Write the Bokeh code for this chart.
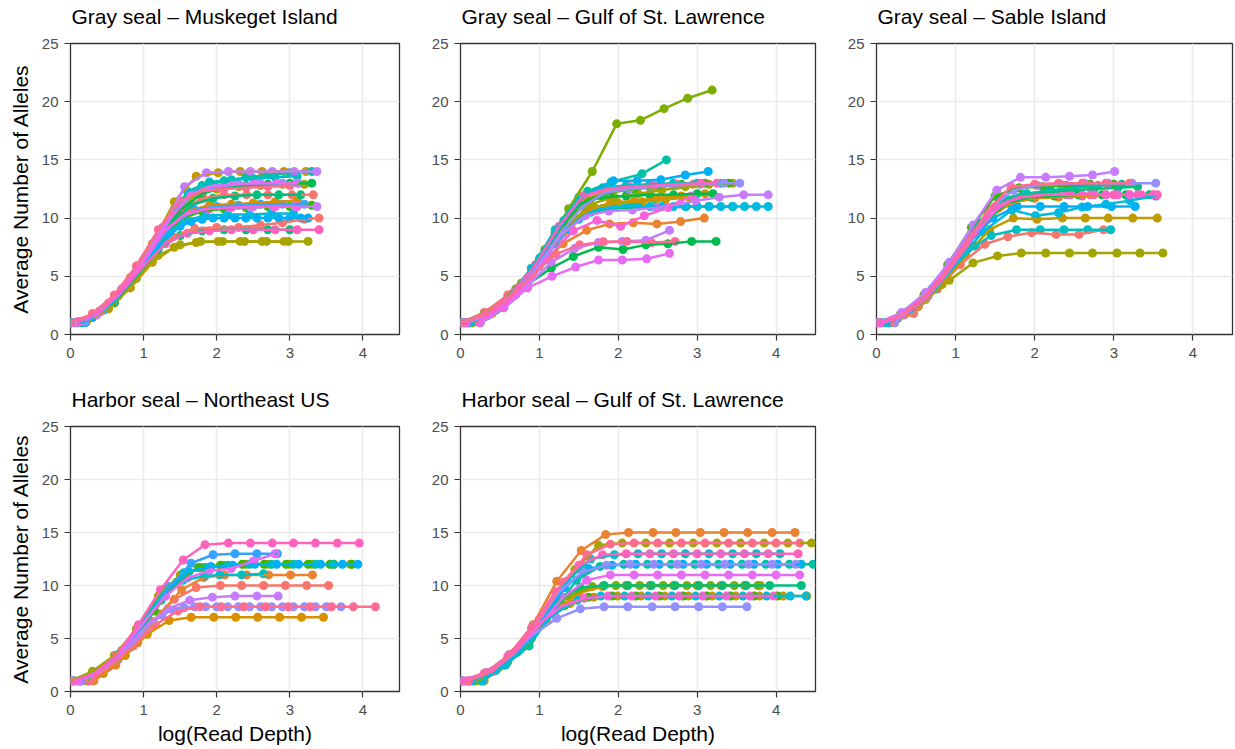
from bokeh.plotting import figure
from bokeh.layouts import row, column
from bokeh.models import Range1d, FixedTicker, Title
from bokeh.embed import file_html
from bokeh.resources import INLINE

# ggplot-like hue palette (style)
palette = ["#F8766D", "#EA8331", "#D89000", "#C09B00", "#A3A500", "#7CAE00", "#39B600",
           "#00BB4E", "#00BF7D", "#00C1A3", "#00BFC4", "#00BAE0", "#00B0F6", "#35A2FF",
           "#9590FF", "#C77CFF", "#E76BF3", "#FA62DB", "#FF62BC", "#FF6C91"]

panel_titles = ["Gray seal \u2013 Muskeget Island", "Gray seal \u2013 Gulf of St. Lawrence",
                "Gray seal \u2013 Sable Island", "Harbor seal \u2013 Northeast US",
                "Harbor seal \u2013 Gulf of St. Lawrence"]
x_ticks = [0, 1, 2, 3, 4]
y_ticks = [0, 5, 10, 15, 20, 25]

# ---------------- Gray seal - Muskeget Island ----------------
musk_col = [15, 3, 9, 10, 16, 14, 4, 7, 0, 8, 2, 6, 15, 17, 12, 11, 0, 18, 8, 4, 3, 19, 13]
musk_x = [
    [0.06, 0.36, 0.66, 0.96, 1.26, 1.56, 1.86, 2.16, 2.46, 2.76, 3.06, 3.37],
    [0.22, 0.52, 0.82, 1.12, 1.42, 1.72, 2.02, 2.32, 2.62, 2.92, 3.22],
    [0.0, 0.3, 0.6, 0.9, 1.2, 1.5, 1.8, 2.1, 2.4, 2.7, 3.0, 3.3],
    [0.1, 0.4, 0.7, 1.0, 1.3, 1.6, 1.9, 2.2, 2.5, 2.8, 3.1],
    [0.12, 0.42, 0.72, 1.02, 1.32, 1.62, 1.92, 2.22, 2.52, 2.82, 3.1],
    [0.2, 0.5, 0.8, 1.1, 1.4, 1.7, 2.0, 2.3, 2.6, 2.9, 3.12],
    [0.2, 0.5, 0.8, 1.1, 1.4, 1.7, 2.0, 2.3, 2.6, 2.9, 3.2],
    [0.0, 0.3, 0.6, 0.9, 1.2, 1.5, 1.8, 2.1, 2.4, 2.7, 3.0, 3.3],
    [0.0, 0.3, 0.6, 0.9, 1.2, 1.5, 1.8, 2.1, 2.41, 2.7, 3.03, 3.32],
    [0.15, 0.45, 0.75, 1.05, 1.35, 1.65, 1.95, 2.25, 2.55, 2.85, 3.15],
    [0.1, 0.4, 0.7, 1.0, 1.3, 1.6, 1.9, 2.2, 2.5, 2.8, 3.1],
    [0.0, 0.3, 0.6, 0.9, 1.2, 1.5, 1.8, 2.1, 2.4, 2.7, 3.0, 3.3],
    [0.07, 0.37, 0.67, 0.97, 1.27, 1.57, 1.87, 2.17, 2.47, 2.77, 3.07, 3.37],
    [0.1, 0.4, 0.7, 1.0, 1.3, 1.6, 1.9, 2.2, 2.5, 2.8, 3.1],
    [0.0, 0.15, 0.3, 0.45, 0.6, 0.75, 0.9, 1.05, 1.2, 1.35, 1.5, 1.65, 1.8, 1.95, 2.1, 2.25,
     2.4, 2.55, 2.7, 2.85, 3.0, 3.15, 3.25],
    [0.05, 0.35, 0.65, 0.95, 1.25, 1.55, 1.85, 2.15, 2.45, 2.75, 3.05],
    [0.2, 0.5, 0.8, 1.1, 1.4, 1.7, 2.0, 2.3, 2.6, 2.9, 3.2, 3.4],
    [0.1, 0.4, 0.7, 1.0, 1.3, 1.6, 1.9, 2.2, 2.5, 2.8, 3.1, 3.4],
    [0.0, 0.3, 0.6, 0.9, 1.2, 1.5, 1.8, 2.1, 2.4, 2.7, 3.0],
    [0.0, 0.3, 0.6, 0.9, 1.2, 1.5, 1.78, 2.08, 2.38, 2.68, 2.98, 3.25],
    [0.22, 0.52, 0.82, 1.12, 1.42, 1.72, 2.02, 2.32, 2.62, 2.92],
    [0.0, 0.3, 0.6, 0.9, 1.2, 1.5, 1.8, 2.1, 2.4, 2.7, 3.0],
    [0.2, 0.5, 0.8, 1.1, 1.4, 1.7, 2.0, 2.3, 2.6, 2.9, 3.2],
]
musk_y = [
    [1.0, 1.7, 3.4, 6.0, 9.2, 12.7, 13.9, 14.0, 14.0, 14.0, 14.0, 14.0],
    [1.2, 2.7, 4.9, 7.8, 11.4, 13.6, 13.9, 14.0, 14.0, 14.0, 14.0],
    [1.0, 1.6, 3.1, 5.4, 8.3, 11.2, 12.8, 13.2, 13.5, 13.7, 13.9, 14.0],
    [1.0, 2.0, 3.9, 6.4, 9.4, 12.3, 13.1, 13.3, 13.4, 13.5, 13.6],
    [1.1, 2.0, 3.9, 6.5, 9.6, 12.0, 12.7, 12.9, 13.0, 13.0, 13.0],
    [1.2, 2.5, 4.6, 7.3, 10.3, 12.2, 12.7, 12.9, 13.0, 13.0, 13.0],
    [1.1, 2.4, 4.5, 7.2, 10.0, 12.0, 12.5, 12.7, 12.8, 12.9, 12.9],
    [1.0, 1.5, 2.9, 5.2, 8.0, 10.7, 12.1, 12.6, 12.8, 12.9, 13.0, 13.0],
    [1.0, 1.6, 3.0, 5.3, 8.1, 10.6, 11.7, 12.0, 12.0, 12.0, 12.0, 12.0],
    [1.0, 2.1, 4.1, 6.7, 9.4, 11.1, 11.7, 11.9, 12.0, 12.0, 12.0],
    [1.0, 2.0, 3.8, 6.3, 8.9, 10.6, 11.1, 11.2, 11.3, 11.4, 11.5],
    [1.0, 1.5, 2.8, 5.0, 7.7, 9.9, 10.6, 10.8, 10.9, 11.0, 11.0, 11.1],
    [1.0, 1.8, 3.5, 6.0, 8.8, 10.3, 10.8, 10.9, 10.9, 11.0, 11.0, 11.0],
    [1.1, 2.0, 3.9, 6.4, 9.0, 10.5, 10.8, 10.9, 11.0, 11.0, 11.0],
    [1.0, 1.1, 1.5, 2.1, 2.9, 4.0, 5.1, 6.3, 7.5, 8.5, 9.3, 9.7, 9.9, 10.0, 10.0, 10.0,
     10.0, 10.0, 10.0, 10.0, 10.0, 10.0, 10.0],
    [1.0, 1.7, 3.3, 5.7, 8.2, 9.8, 10.2, 10.3, 10.3, 10.4, 10.4],
    [1.2, 2.5, 4.4, 6.8, 8.4, 9.1, 9.2, 9.2, 9.4, 9.6, 9.9, 10.0],
    [1.1, 2.0, 3.7, 5.9, 7.8, 8.7, 8.9, 9.0, 9.0, 9.0, 9.0, 9.0],
    [1.0, 1.5, 2.8, 5.0, 7.3, 8.5, 8.9, 9.0, 9.0, 9.0, 9.0],
    [1.0, 1.5, 2.7, 4.8, 6.8, 7.7, 8.0, 8.0, 8.0, 8.0, 8.0, 8.0],
    [1.1, 2.2, 4.0, 6.2, 7.5, 7.9, 8.0, 8.0, 8.0, 8.0],
    [1.0, 1.8, 3.4, 5.9, 9.0, 11.5, 12.3, 12.5, 12.6, 12.7, 12.8],
    [1.0, 2.4, 4.3, 7.0, 9.5, 10.7, 11.0, 11.1, 11.2, 11.2, 11.2],
]

# ---------------- Gray seal - Gulf of St. Lawrence ----------------
gulf_col = [5, 9, 12, 14, 4, 6, 10, 18, 0, 7, 2, 3, 15, 11, 8, 1, 17, 15, 19, 7, 16]
gulf_x = [
    [0.17, 0.47, 0.77, 1.07, 1.37, 1.67, 1.98, 2.28, 2.58, 2.88, 3.19],
    [0.11, 0.41, 0.71, 1.01, 1.31, 1.61, 1.91, 2.3, 2.61],
    [0.04, 0.34, 0.64, 0.94, 1.24, 1.54, 1.94, 2.24, 2.54, 2.85, 3.14],
    [0.04, 0.34, 0.64, 0.94, 1.24, 1.54, 1.84, 2.14, 2.44, 2.74, 3.04, 3.34, 3.54],
    [0.15, 0.45, 0.75, 1.05, 1.35, 1.65, 1.95, 2.25, 2.55, 2.85, 3.15, 3.45],
    [0.1, 0.4, 0.7, 1.0, 1.3, 1.6, 1.9, 2.2, 2.5, 2.8, 3.1, 3.4],
    [0.0, 0.3, 0.6, 0.9, 1.2, 1.5, 1.8, 2.1, 2.4, 2.7, 3.0, 3.3],
    [0.05, 0.35, 0.65, 0.95, 1.25, 1.55, 1.85, 2.15, 2.45, 2.75, 3.05, 3.25],
    [0.0, 0.3, 0.6, 0.9, 1.2, 1.5, 1.8, 2.1, 2.4, 2.7, 2.95],
    [0.0, 0.3, 0.6, 0.9, 1.2, 1.5, 1.8, 2.1, 2.4, 2.7, 3.0, 3.2],
    [0.1, 0.4, 0.7, 1.0, 1.3, 1.6, 1.9, 2.2, 2.5, 2.8, 3.1],
    [0.2, 0.5, 0.8, 1.1, 1.4, 1.7, 2.0, 2.3, 2.6, 2.9],
    [0.08, 0.38, 0.68, 0.98, 1.28, 1.58, 1.88, 2.18, 2.48, 2.78, 2.98, 3.28, 3.59, 3.9],
    [0.0, 0.15, 0.3, 0.45, 0.6, 0.75, 0.9, 1.05, 1.2, 1.35, 1.5, 1.65, 1.8, 1.95, 2.1, 2.25,
     2.4, 2.55, 2.7, 2.85, 3.0, 3.15, 3.3, 3.45, 3.6, 3.75, 3.9],
    [0.06, 0.36, 0.66, 0.96, 1.26, 1.56, 1.86, 2.16, 2.46, 2.86, 3.15, 3.45],
    [0.1, 0.4, 0.7, 1.0, 1.3, 1.6, 1.89, 2.19, 2.49, 2.79, 3.09],
    [0.23, 0.53, 0.83, 1.13, 1.43, 1.73, 2.03, 2.33, 2.63, 2.93],
    [0.25, 0.55, 0.85, 1.15, 1.45, 1.75, 2.05, 2.35, 2.65],
    [0.0, 0.31, 0.61, 0.91, 1.21, 1.51, 1.81, 2.11, 2.42, 2.72],
    [0.25, 0.55, 0.85, 1.15, 1.43, 1.75, 2.06, 2.35, 2.63, 2.93, 3.24],
    [0.25, 0.55, 0.85, 1.16, 1.46, 1.75, 2.05, 2.36, 2.65],
]
gulf_y = [
    [1.1, 2.3, 4.4, 7.3, 10.8, 14.0, 18.1, 18.4, 19.4, 20.3, 21.0],
    [1.0, 2.0, 3.9, 6.6, 9.8, 12.3, 13.1, 13.8, 15.0],
    [1.0, 1.7, 3.2, 5.8, 9.0, 11.8, 13.2, 13.2, 13.3, 13.7, 14.0],
    [1.0, 1.6, 3.1, 5.5, 8.4, 11.0, 12.2, 12.5, 12.7, 12.8, 12.9, 13.0, 13.0],
    [1.0, 2.1, 4.0, 6.6, 9.3, 11.2, 11.8, 12.1, 12.4, 12.7, 12.9, 13.0],
    [1.0, 2.0, 3.9, 6.5, 9.4, 11.6, 12.2, 12.5, 12.7, 12.9, 13.0, 13.0],
    [1.0, 1.6, 3.1, 5.7, 9.0, 11.8, 12.6, 12.8, 12.9, 13.0, 13.0, 13.0],
    [1.0, 1.9, 3.5, 6.0, 9.3, 11.9, 12.5, 12.7, 12.8, 12.9, 13.0, 13.0],
    [1.0, 1.9, 3.4, 5.6, 8.7, 11.4, 12.3, 12.5, 12.6, 12.8, 12.9],
    [1.0, 1.7, 3.1, 5.7, 8.8, 11.2, 11.8, 11.9, 12.0, 12.0, 12.1, 12.1],
    [1.0, 1.8, 3.4, 6.0, 8.7, 10.7, 11.3, 11.5, 11.7, 11.9, 12.1],
    [1.1, 2.3, 4.3, 6.9, 9.4, 10.9, 11.3, 11.4, 11.6, 11.8],
    [1.0, 1.8, 3.4, 5.8, 8.6, 10.2, 10.6, 10.7, 10.9, 11.2, 11.5, 11.8, 12.0, 12.0],
    [1.0, 1.1, 1.5, 2.1, 2.9, 3.9, 5.1, 6.4, 7.8, 9.0, 9.9, 10.5, 10.8, 10.9, 11.0, 11.0,
     11.0, 11.0, 11.0, 11.0, 11.0, 11.0, 11.0, 11.0, 11.0, 11.0, 11.0],
    [1.0, 1.7, 3.3, 5.9, 8.5, 10.2, 10.8, 10.9, 11.0, 11.0, 11.0, 11.0],
    [1.0, 1.9, 3.6, 5.9, 7.8, 8.95, 9.5, 9.6, 9.5, 9.7, 10.0],
    [1.1, 2.4, 4.3, 6.8, 8.9, 9.8, 9.3, 10.2, 10.9, 11.9],
    [1.1, 2.4, 4.2, 6.2, 7.4, 7.9, 8.0, 8.1, 8.95],
    [1.0, 1.7, 3.1, 5.1, 6.9, 7.7, 7.97, 8.0, 7.9, 8.0],
    [1.0, 2.6, 4.3, 5.7, 6.7, 7.5, 7.3, 7.7, 7.8, 8.0, 8.0],
    [1.0, 2.3, 4.0, 5.0, 5.8, 6.4, 6.4, 6.5, 6.97],
]

# ---------------- Gray seal - Sable Island ----------------
sable_col = [15, 14, 19, 6, 9, 17, 18, 2, 12, 11, 3, 10, 0, 4, 8, 7]
sable_x = [
    [0.02, 0.32, 0.62, 0.92, 1.22, 1.52, 1.82, 2.14, 2.44, 2.73, 3.01],
    [0.23, 0.53, 0.83, 1.13, 1.43, 1.73, 2.03, 2.33, 2.63, 2.93, 3.23, 3.53],
    [0.2, 0.5, 0.8, 1.1, 1.4, 1.7, 2.0, 2.3, 2.6, 2.9, 3.2],
    [0.0, 0.3, 0.6, 0.9, 1.2, 1.5, 1.8, 2.1, 2.4, 2.7, 3.0],
    [0.1, 0.4, 0.7, 1.0, 1.3, 1.6, 1.9, 2.2, 2.5, 2.8, 3.1],
    [0.05, 0.2, 0.35, 0.5, 0.65, 0.8, 0.95, 1.1, 1.25, 1.4, 1.55, 1.7, 1.85, 2.0, 2.15, 2.3,
     2.45, 2.6, 2.75, 2.9, 3.05, 3.2, 3.35, 3.5],
    [0.0, 0.3, 0.6, 0.9, 1.2, 1.5, 1.8, 2.1, 2.4, 2.7, 3.0, 3.3, 3.55],
    [0.2, 0.5, 0.8, 1.1, 1.4, 1.7, 2.0, 2.3, 2.6, 2.9, 3.2, 3.5],
    [0.0, 0.27, 0.57, 0.87, 1.17, 1.47, 1.78, 2.07, 2.37, 2.67, 2.97, 3.27],
    [0.14, 0.44, 0.74, 1.04, 1.34, 1.71, 2.01, 2.3, 2.6, 2.9, 3.2, 3.53],
    [0.23, 0.53, 0.83, 1.13, 1.43, 1.73, 2.03, 2.35, 2.64, 2.93, 3.24, 3.55],
    [0.05, 0.35, 0.65, 0.95, 1.25, 1.45, 1.77, 2.07, 2.37, 2.67, 2.96],
    [0.17, 0.47, 0.77, 1.06, 1.37, 1.66, 1.96, 2.27, 2.56, 2.87],
    [0.02, 0.32, 0.62, 0.92, 1.22, 1.53, 1.83, 2.14, 2.44, 2.73, 3.04, 3.33, 3.62],
    [0.05, 0.35, 0.65, 0.95, 1.25, 1.55, 1.85, 2.15, 2.45, 2.75, 3.05, 3.3],
    [0.15, 0.45, 0.75, 1.05, 1.35, 1.65, 1.95, 2.25, 2.55, 2.85, 3.15, 3.45],
]
sable_y = [
    [1.0, 1.9, 3.6, 6.2, 9.4, 12.4, 13.5, 13.5, 13.6, 13.7, 14.0],
    [1.0, 2.6, 4.7, 7.6, 10.8, 12.4, 12.8, 12.9, 13.0, 13.0, 13.0, 13.0],
    [1.2, 2.5, 4.6, 7.4, 10.6, 12.7, 12.9, 13.0, 13.0, 13.0, 13.0],
    [1.0, 1.7, 3.4, 6.0, 9.2, 11.9, 12.6, 12.7, 12.8, 12.9, 12.9],
    [1.0, 2.0, 3.9, 6.6, 9.6, 11.7, 12.1, 12.4, 12.6, 12.8, 12.9],
    [1.0, 1.2, 1.7, 2.4, 3.3, 4.5, 5.8, 7.2, 8.6, 9.9, 10.9, 11.5, 11.8, 11.9, 12.0, 12.0,
     12.0, 12.0, 12.0, 12.0, 12.0, 12.0, 12.0, 12.0],
    [1.0, 1.6, 3.2, 5.7, 8.7, 11.0, 11.8, 12.0, 12.0, 12.0, 12.0, 12.0, 12.0],
    [1.1, 2.4, 4.4, 7.1, 9.9, 11.3, 11.7, 11.8, 11.9, 12.0, 12.0, 12.0],
    [1.0, 1.4, 2.9, 5.2, 7.9, 10.0, 11.0, 11.0, 11.0, 11.0, 11.0, 11.0],
    [1.0, 2.0, 3.9, 6.3, 8.8, 10.7, 10.2, 10.45, 10.95, 11.2, 11.5, 11.9],
    [1.0, 2.4, 4.3, 6.8, 9.0, 10.0, 9.9, 10.0, 10.0, 10.0, 10.0, 10.0],
    [1.0, 1.7, 3.3, 5.7, 7.6, 8.5, 9.0, 9.0, 9.0, 9.0, 9.0],
    [1.0, 1.8, 3.9, 6.0, 7.75, 8.4, 8.75, 8.6, 8.6, 9.0],
    [1.0, 1.7, 3.0, 4.65, 6.15, 6.75, 7.0, 7.0, 7.0, 7.0, 7.0, 7.0, 7.0],
    [1.0, 1.8, 3.5, 6.2, 9.3, 11.5, 12.0, 12.2, 12.4, 12.5, 12.6, 12.7],
    [1.0, 2.1, 4.0, 6.7, 9.6, 11.3, 11.8, 11.9, 12.0, 12.0, 12.0, 12.0],
]

# ---------------- Harbor seal - Northeast US ----------------
ne_col = [18, 13, 16, 12, 6, 4, 9, 10, 1, 0, 15, 14, 19, 2]
ne_x = [
    [0.03, 0.33, 0.63, 0.93, 1.23, 1.54, 1.84, 2.16, 2.46, 2.76, 3.05, 3.35, 3.65, 3.95],
    [0.15, 0.45, 0.75, 1.05, 1.35, 1.65, 1.95, 2.25, 2.55, 2.83],
    [0.1, 0.4, 0.7, 1.0, 1.3, 1.6, 1.9, 2.2, 2.5, 2.8],
    [0.12, 0.42, 0.72, 1.02, 1.32, 1.62, 1.92, 2.22, 2.52, 2.82, 3.12, 3.42, 3.72, 3.93],
    [0.25, 0.55, 0.85, 1.15, 1.45, 1.75, 2.05, 2.35, 2.65, 2.95, 3.25, 3.55, 3.85],
    [0.0, 0.3, 0.6, 0.9, 1.2, 1.5, 1.8, 2.1, 2.4, 2.7, 3.0, 3.3, 3.6, 3.83],
    [0.05, 0.35, 0.65, 0.95, 1.25, 1.55, 1.85, 2.15, 2.45, 2.75, 3.05, 3.35, 3.6],
    [0.04, 0.34, 0.64, 0.94, 1.24, 1.54, 1.84, 2.04, 2.34, 2.64],
    [0.32, 0.62, 0.92, 1.22, 1.52, 1.82, 2.11, 2.41, 2.71, 3.01, 3.31],
    [0.22, 0.52, 0.82, 1.12, 1.42, 1.72, 2.05, 2.34, 2.64, 2.94, 3.23, 3.53],
    [0.13, 0.43, 0.73, 1.03, 1.33, 1.63, 1.94, 2.25, 2.55, 2.84],
    [0.05, 0.2, 0.35, 0.5, 0.65, 0.8, 0.95, 1.1, 1.25, 1.4, 1.55, 1.7, 1.85, 2.0, 2.15, 2.3,
     2.45, 2.6, 2.75, 2.9, 3.05, 3.2, 3.35, 3.5, 3.7],
    [0.26, 0.56, 0.86, 1.16, 1.47, 1.77, 2.06, 2.37, 2.67, 2.98, 3.28, 3.57, 3.87, 4.17],
    [0.15, 0.45, 0.75, 1.05, 1.35, 1.65, 1.96, 2.26, 2.56, 2.86, 3.16, 3.46],
]
ne_y = [
    [1.0, 1.7, 3.4, 6.3, 9.6, 12.4, 13.85, 14.0, 14.0, 14.0, 14.0, 14.0, 14.0, 14.0],
    [1.0, 2.0, 4.0, 6.9, 9.9, 12.1, 12.9, 13.0, 13.0, 13.0],
    [1.0, 2.0, 3.9, 6.5, 9.0, 10.7, 11.4, 11.6, 12.3, 13.0],
    [1.0, 1.9, 3.7, 6.5, 9.6, 11.3, 11.8, 11.9, 12.0, 12.0, 12.0, 12.0, 12.0, 12.0],
    [1.0, 2.7, 4.8, 7.6, 10.3, 11.7, 11.9, 12.0, 12.0, 12.0, 12.0, 12.0, 12.0],
    [1.0, 1.9, 3.4, 5.9, 9.0, 11.0, 11.7, 11.9, 12.0, 12.0, 12.0, 12.0, 12.0, 12.0],
    [1.0, 1.8, 3.5, 6.2, 9.2, 11.2, 11.7, 11.9, 12.0, 12.0, 12.0, 12.0, 12.0],
    [1.0, 1.7, 3.3, 5.8, 8.6, 10.5, 10.9, 11.0, 11.0, 11.1],
    [1.0, 2.5, 4.6, 7.3, 9.6, 10.75, 11.0, 11.0, 11.0, 11.0, 11.0],
    [1.0, 2.3, 4.2, 6.6, 8.7, 9.8, 10.0, 10.0, 10.0, 10.0, 10.0, 10.0],
    [1.0, 2.0, 3.8, 6.1, 7.8, 8.6, 8.9, 9.0, 9.0, 9.0],
    [1.0, 1.2, 1.6, 2.2, 3.0, 4.1, 5.3, 6.4, 7.2, 7.7, 7.9, 8.0, 8.0, 8.0, 8.0, 8.0,
     8.0, 8.0, 8.0, 8.0, 8.0, 8.0, 8.0, 8.0, 8.0],
    [1.0, 2.5, 4.3, 6.3, 7.6, 8.0, 8.0, 8.0, 8.0, 8.0, 8.0, 8.0, 8.0, 8.0],
    [1.0, 1.7, 3.4, 5.4, 6.7, 7.0, 7.0, 7.0, 7.0, 7.0, 7.0, 7.0],
]

# ---------------- Harbor seal - Gulf of St. Lawrence ----------------
hg_col = [1, 4, 19, 18, 10, 9, 14, 12, 16, 8, 5, 2, 3, 17, 6, 11, 14]
hg_x = [
    [0.02, 0.32, 0.62, 0.92, 1.22, 1.53, 1.84, 2.13, 2.44, 2.73, 3.04, 3.34, 3.64, 3.95, 4.24],
    [0.25, 0.55, 0.85, 1.15, 1.45, 1.75, 2.05, 2.35, 2.65, 2.95, 3.25, 3.55, 3.85, 4.15, 4.45],
    [0.1, 0.4, 0.7, 1.0, 1.3, 1.6, 1.9, 2.2, 2.5, 2.8, 3.1, 3.4, 3.7, 4.0, 4.3],
    [0.0, 0.3, 0.6, 0.9, 1.2, 1.5, 1.8, 2.1, 2.4, 2.7, 3.0, 3.3, 3.6, 3.9, 4.28],
    [0.15, 0.45, 0.75, 1.05, 1.35, 1.65, 1.95, 2.25, 2.55, 2.85, 3.15, 3.45, 3.75, 4.05],
    [0.27, 0.57, 0.87, 1.17, 1.47, 1.77, 2.07, 2.37, 2.67, 2.97, 3.27, 3.57, 3.87, 4.17, 4.47],
    [0.05, 0.35, 0.65, 0.95, 1.25, 1.55, 1.85, 2.15, 2.45, 2.75, 3.05, 3.35, 3.65, 3.95, 4.25],
    [0.12, 0.42, 0.72, 1.02, 1.32, 1.62, 1.92, 2.22, 2.52, 2.82, 3.12, 3.42, 3.72, 4.02, 4.32],
    [0.1, 0.4, 0.7, 1.0, 1.3, 1.6, 1.9, 2.2, 2.5, 2.8, 3.1, 3.4, 3.7, 4.0, 4.3],
    [0.02, 0.32, 0.62, 0.92, 1.22, 1.52, 1.82, 2.12, 2.42, 2.72, 3.02, 3.32, 3.62, 3.92, 4.32],
    [0.17, 0.47, 0.77, 1.07, 1.37, 1.67, 1.97, 2.27, 2.57, 2.87, 3.17, 3.47, 3.77],
    [0.3, 0.6, 0.9, 1.2, 1.5, 1.8, 2.1, 2.4, 2.7, 3.0, 3.3, 3.6, 3.8],
    [0.19, 0.49, 0.79, 1.09, 1.39, 1.69, 1.99, 2.29, 2.59, 2.89, 3.19, 3.49, 3.79, 4.09, 4.39],
    [0.07, 0.37, 0.67, 0.97, 1.27, 1.57, 1.87, 2.17, 2.47, 2.77, 3.07, 3.37, 3.67, 3.97],
    [0.12, 0.42, 0.72, 1.02, 1.32, 1.62, 1.92, 2.22, 2.52, 2.82, 3.12, 3.42, 3.72, 4.02],
    [0.28, 0.58, 0.88, 1.18, 1.48, 1.78, 2.08, 2.38, 2.68, 2.98, 3.28, 3.58, 3.88, 4.18, 4.38],
    [0.01, 0.31, 0.61, 0.91, 1.22, 1.52, 1.82, 2.12, 2.43, 2.72, 3.02, 3.32, 3.63],
]
hg_y = [
    [1.0, 1.8, 3.5, 6.3, 10.4, 13.3, 14.8, 15.0, 15.0, 15.0, 15.0, 15.0, 15.0, 15.0, 15.0],
    [1.0, 2.5, 4.4, 7.9, 11.5, 13.8, 14.0, 14.0, 14.0, 14.0, 14.0, 14.0, 14.0, 14.0, 14.0],
    [1.0, 1.9, 3.8, 6.8, 10.3, 12.9, 13.9, 14.0, 14.0, 14.0, 14.0, 14.0, 14.0, 14.0, 14.0],
    [1.0, 1.7, 3.3, 6.0, 9.4, 11.9, 12.9, 13.0, 13.0, 13.0, 13.0, 13.0, 13.0, 13.0, 13.0],
    [1.0, 2.0, 3.9, 7.0, 10.4, 12.5, 12.9, 13.0, 13.0, 13.0, 13.0, 13.0, 13.0, 13.0],
    [1.0, 2.5, 4.3, 7.5, 10.5, 11.8, 12.0, 12.0, 12.0, 12.0, 12.0, 12.0, 12.0, 12.0, 12.0],
    [1.0, 1.8, 3.5, 6.2, 9.4, 11.3, 11.9, 12.0, 12.0, 12.0, 12.0, 12.0, 12.0, 12.0, 12.0],
    [1.0, 1.9, 3.7, 6.5, 9.8, 11.6, 11.9, 12.0, 12.0, 12.0, 12.0, 12.0, 12.0, 12.0, 12.0],
    [1.0, 1.9, 3.7, 6.2, 8.9, 10.5, 11.0, 11.0, 11.0, 11.0, 11.0, 11.0, 11.0, 11.0, 11.0],
    [1.0, 1.6, 3.2, 5.9, 8.6, 9.8, 10.0, 10.0, 10.0, 10.0, 10.0, 10.0, 10.0, 10.0, 10.0],
    [1.0, 2.2, 4.2, 7.0, 9.0, 9.9, 10.0, 10.0, 10.0, 10.0, 10.0, 10.0, 10.0],
    [1.0, 2.8, 5.0, 7.6, 9.3, 9.9, 10.0, 10.0, 10.0, 10.0, 10.0, 10.0, 10.0],
    [1.0, 2.3, 4.3, 6.8, 8.3, 8.9, 9.0, 9.0, 9.0, 9.0, 9.0, 9.0, 9.0, 9.0, 9.0],
    [1.0, 1.8, 3.6, 6.2, 8.0, 8.8, 9.0, 9.0, 9.0, 9.0, 9.0, 9.0, 9.0, 9.0],
    [1.0, 2.0, 3.9, 6.3, 8.1, 8.9, 9.0, 9.0, 9.0, 9.0, 9.0, 9.0, 9.0, 9.0],
    [1.0, 2.6, 4.8, 7.3, 8.6, 9.0, 9.0, 9.0, 9.0, 9.0, 9.0, 9.0, 9.0, 9.0, 9.0],
    [1.0, 1.7, 3.3, 5.3, 6.9, 7.8, 8.0, 8.0, 8.0, 8.0, 8.0, 8.0, 8.0],
]

FONT = "Liberation Sans"


def make_panel(title, cols, xs, ys, fw, fh, bl, br, bt, bb, gap, ylab=None, xlab=None):
    p = figure(title=None, frame_width=fw, frame_height=fh,
               min_border_left=bl, min_border_right=br, min_border_top=bt, min_border_bottom=bb,
               x_range=Range1d(0, 4.5), y_range=Range1d(0, 25),
               output_backend="svg", toolbar_location=None, tools="")
    # spacer between the frame and the panel title (closest to the frame)
    p.add_layout(Title(text=" ", text_font_size="1px", standoff=gap), "above")
    p.add_layout(Title(text=title, text_font=FONT, text_font_size="21px",
                       text_font_style="normal", text_color="#000000",
                       vertical_align="top", standoff=0, offset=1), "above")
    p.background_fill_color = "white"
    p.border_fill_color = "white"
    p.outline_line_color = "#333333"
    p.outline_line_width = 1.3
    p.outline_line_alpha = 1.0
    for g in (p.xgrid, p.ygrid):
        g.grid_line_color = "#EBEBEB"
        g.grid_line_width = 1.6
    p.xaxis.ticker = FixedTicker(ticks=x_ticks)
    p.yaxis.ticker = FixedTicker(ticks=y_ticks)
    for ax in (p.xaxis, p.yaxis):
        ax.axis_line_color = None
        ax.major_tick_line_color = "#333333"
        ax.major_tick_line_width = 1.2
        ax.major_tick_out = 6
        ax.major_tick_in = 0
        ax.minor_tick_line_color = None
        ax.major_label_text_font = FONT
        ax.major_label_text_font_size = "15px"
        ax.major_label_text_color = "#4D4D4D"
        ax.axis_label_text_font = FONT
        ax.axis_label_text_font_size = "21px"
        ax.axis_label_text_font_style = "normal"
        ax.axis_label_text_color = "#000000"
    p.xaxis.major_label_standoff = 7
    p.yaxis.major_label_standoff = 6
    if ylab:
        p.yaxis.axis_label = ylab
        p.yaxis.axis_label_standoff = 7
    if xlab:
        p.xaxis.axis_label = xlab
        p.xaxis.axis_label_standoff = 4

    order = sorted(range(len(cols)), key=lambda i: cols[i])
    for i in order:
        n = min(len(xs[i]), len(ys[i]))
        p.scatter(xs[i][:n], ys[i][:n], size=9, color=palette[cols[i]], line_width=0)
    for i in order:
        n = min(len(xs[i]), len(ys[i]))
        p.line(xs[i][:n], ys[i][:n], line_width=2.5, color=palette[cols[i]])
    return p


YL = "Average Number of Alleles"
XL = "log(Read Depth)"

f1 = make_panel(panel_titles[0], musk_col, musk_x, musk_y, 329, 291, 70, 13, 43, 44, 11, ylab=YL)
f2 = make_panel(panel_titles[1], gulf_col, gulf_x, gulf_y, 355, 291, 48, 9, 43, 44, 11)
f3 = make_panel(panel_titles[2], sable_col, sable_x, sable_y, 356, 291, 52, 3, 43, 44, 11)
f4 = make_panel(panel_titles[3], ne_col, ne_x, ne_y, 329, 265, 70, 13, 48, 58, 11, ylab=YL, xlab=XL)
f5 = make_panel(panel_titles[4], hg_col, hg_x, hg_y, 355, 265, 48, 9, 48, 58, 11, xlab=XL)

layout = column(row(f1, f2, f3), row(f4, f5))

open("out.html", "w").write(file_html(layout, INLINE))
